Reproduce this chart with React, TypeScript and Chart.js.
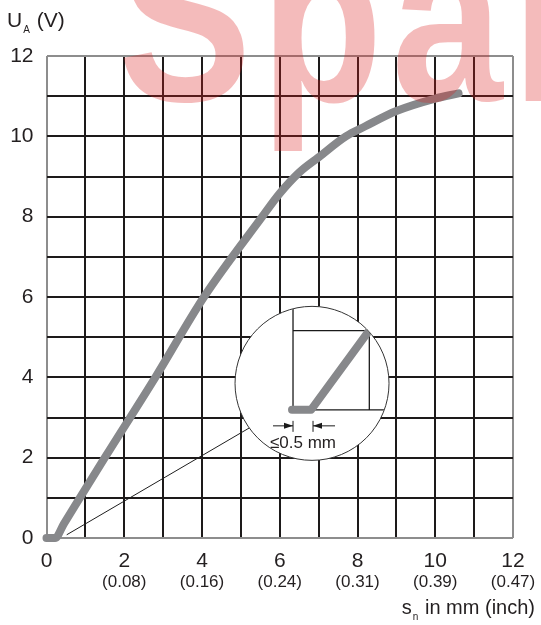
import React, { useEffect, useRef } from 'react';
import { Chart, registerables } from 'chart.js';

Chart.register(...registerables);

// ---- data ----
const distanceMm = [0, 0.22, 0.45, 1.5, 2.8, 4.05, 5.55, 6.0, 6.5, 7.0, 7.7, 8.2, 9.0, 10.0, 10.6];
const outputVoltage = [0, 0, 0.36, 2, 4, 6, 8, 8.58, 9.1, 9.48, 10.0, 10.25, 10.63, 10.94, 11.07];
const xTickValues = [0, 2, 4, 6, 8, 10, 12];
const xInchLabels = ['', '(0.08)', '(0.16)', '(0.24)', '(0.31)', '(0.39)', '(0.47)'];
const yTickValues = [0, 2, 4, 6, 8, 10, 12];
const yTitleParts = ['U', 'A', ' (V)'];
const xTitleParts = ['s', 'n', ' in mm (inch)'];
const insetLabel = '≤0.5 mm';
const watermarkText = 'Spar';

const FONT = '"Liberation Sans", Arial, sans-serif';
const TEXT = '#231f20';
const CURVE = '#87888b';

const textPlugin = {
  id: 'texts',
  afterDatasetsDraw(chart: any) {
    const ctx = chart.ctx;
    const xs = chart.scales.x;
    const ys = chart.scales.y;
    // ---- inset ----
    const cx = xs.getPixelForValue(6.83);
    const cy = ys.getPixelForValue(3.85);
    const r = 77;
    ctx.save();
    ctx.strokeStyle = '#1e1e1e';
    ctx.lineWidth = 1;
    ctx.beginPath();
    ctx.moveTo(xs.getPixelForValue(0.52), ys.getPixelForValue(0.08));
    ctx.lineTo(cx - 60, cy + 43);
    ctx.stroke();
    ctx.beginPath();
    ctx.arc(cx, cy, r, 0, Math.PI * 2);
    ctx.fillStyle = '#ffffff';
    ctx.fill();
    ctx.strokeStyle = '#333333';
    ctx.lineWidth = 1;
    ctx.stroke();
    ctx.save();
    ctx.beginPath();
    ctx.arc(cx, cy, r - 0.5, 0, Math.PI * 2);
    ctx.clip();
    ctx.strokeStyle = '#1a1a1a';
    ctx.lineWidth = 1.3;
    ctx.beginPath();
    ctx.moveTo(cx - 19, cy - r);
    ctx.lineTo(cx - 19, cy + 26.5);
    ctx.moveTo(cx - 19, cy - 52.8);
    ctx.lineTo(cx + 57.3, cy - 52.8);
    ctx.lineTo(cx + 57.3, cy + 26.5);
    ctx.moveTo(cx, cy + 26.5);
    ctx.lineTo(cx + r, cy + 26.5);
    ctx.stroke();
    ctx.strokeStyle = CURVE;
    ctx.lineWidth = 8;
    ctx.lineCap = 'round';
    ctx.lineJoin = 'round';
    ctx.beginPath();
    ctx.moveTo(cx - 20, cy + 26.5);
    ctx.lineTo(cx - 1, cy + 26.5);
    ctx.lineTo(cx + 58, cy - 54);
    ctx.stroke();
    ctx.restore();
    // dimension
    const dy = cy + 42.5;
    ctx.strokeStyle = '#1a1a1a';
    ctx.fillStyle = '#1a1a1a';
    ctx.lineWidth = 1;
    ctx.beginPath();
    ctx.moveTo(cx - 39, dy);
    ctx.lineTo(cx - 19, dy);
    ctx.moveTo(cx + 1, dy);
    ctx.lineTo(cx + 23, dy);
    ctx.moveTo(cx - 19, dy - 5);
    ctx.lineTo(cx - 19, dy + 6);
    ctx.moveTo(cx + 1, dy - 5);
    ctx.lineTo(cx + 1, dy + 6);
    ctx.stroke();
    ctx.beginPath();
    ctx.moveTo(cx - 19, dy);
    ctx.lineTo(cx - 28, dy - 3);
    ctx.lineTo(cx - 28, dy + 3);
    ctx.closePath();
    ctx.fill();
    ctx.beginPath();
    ctx.moveTo(cx + 1, dy);
    ctx.lineTo(cx + 10, dy - 3);
    ctx.lineTo(cx + 10, dy + 3);
    ctx.closePath();
    ctx.fill();
    ctx.fillStyle = TEXT;
    ctx.font = `17px ${FONT}`;
    ctx.textAlign = 'center';
    ctx.textBaseline = 'middle';
    ctx.fillText(insetLabel, cx - 9, cy + 60);
    ctx.restore();
  },
  afterDraw(chart: any) {
    const ctx = chart.ctx;
    const xs = chart.scales.x;
    ctx.save();
    ctx.fillStyle = TEXT;
    // inch labels
    ctx.font = `17px ${FONT}`;
    ctx.textAlign = 'center';
    ctx.textBaseline = 'middle';
    xTickValues.forEach((v, i) => {
      if (xInchLabels[i]) ctx.fillText(xInchLabels[i], xs.getPixelForValue(v), 582);
    });
    // y title
    ctx.textAlign = 'left';
    ctx.textBaseline = 'alphabetic';
    ctx.font = `21px ${FONT}`;
    let x = 7;
    ctx.fillText(yTitleParts[0], x, 27);
    x += ctx.measureText(yTitleParts[0]).width + 1;
    ctx.font = `10px ${FONT}`;
    ctx.fillText(yTitleParts[1], x, 33);
    x += ctx.measureText(yTitleParts[1]).width + 1;
    ctx.font = `21px ${FONT}`;
    ctx.fillText(yTitleParts[2], x, 27);
    // x title (right aligned)
    ctx.font = `20px ${FONT}`;
    const wS = ctx.measureText(xTitleParts[0]).width;
    const wRest = ctx.measureText(xTitleParts[2]).width;
    ctx.font = `10px ${FONT}`;
    const wSub = ctx.measureText(xTitleParts[1]).width;
    let tx = 535 - wRest - wSub - 2 - wS;
    ctx.font = `20px ${FONT}`;
    ctx.fillText(xTitleParts[0], tx, 614);
    tx += wS + 1;
    ctx.font = `10px ${FONT}`;
    ctx.fillText(xTitleParts[1], tx, 620);
    tx += wSub + 1;
    ctx.font = `20px ${FONT}`;
    ctx.fillText(xTitleParts[2], tx, 614);
    ctx.restore();
    // watermark
    ctx.save();
    ctx.translate(0, 101);
    ctx.scale(1, 1.2);
    ctx.font = `bold 200px ${FONT}`;
    (ctx as any).letterSpacing = '9px';
    ctx.textAlign = 'left';
    ctx.textBaseline = 'alphabetic';
    ctx.fillStyle = 'rgba(220, 30, 30, 0.3)';
    ctx.fillText(watermarkText, 118, 0);
    ctx.restore();
  },
};

export default function App() {
  const ref = useRef<HTMLCanvasElement>(null);
  useEffect(() => {
    if (!ref.current) return;
    const gridColor = (c: any) =>
      c.tick && (c.tick.value === 0 || c.tick.value === 12) ? '#8d8d8d' : '#1d1a1a';
    const chart = new Chart(ref.current, {
      type: 'line',
      data: {
        datasets: [
          {
            data: distanceMm.map((d, i) => ({ x: d, y: outputVoltage[i] })),
            borderColor: CURVE,
            borderWidth: 8,
            borderCapStyle: 'round',
            borderJoinStyle: 'round',
            pointRadius: 0,
            cubicInterpolationMode: 'monotone',
            fill: false,
            clip: false,
          } as any,
        ],
      },
      options: {
        animation: false,
        responsive: true,
        maintainAspectRatio: false,
        layout: { padding: { top: 56, right: 28, left: 0, bottom: 0 } },
        plugins: { legend: { display: false }, tooltip: { enabled: false } },
        scales: {
          x: {
            type: 'linear',
            min: 0,
            max: 12,
            afterFit: (s: any) => {
              s.height = 87;
            },
            afterBuildTicks: (s: any) => {
              s.ticks = Array.from({ length: 13 }, (_, i) => ({ value: i }));
            },
            border: { display: false },
            grid: { color: gridColor, lineWidth: 2, drawTicks: false },
            ticks: {
              padding: 11,
              color: TEXT,
              font: { family: FONT, size: 21 },
              maxRotation: 0,
              autoSkip: false,
              callback: (v: any) => (xTickValues.includes(v) ? String(v) : ''),
            },
          },
          y: {
            type: 'linear',
            min: 0,
            max: 12,
            afterFit: (s: any) => {
              s.width = 46.5;
            },
            afterBuildTicks: (s: any) => {
              s.ticks = Array.from({ length: 13 }, (_, i) => ({ value: i }));
            },
            border: { display: false },
            grid: { color: gridColor, lineWidth: 2, drawTicks: false },
            ticks: {
              padding: 13,
              color: TEXT,
              font: { family: FONT, size: 21 },
              autoSkip: false,
              callback: (v: any) => (yTickValues.includes(v) ? String(v) : ''),
            },
          },
        },
      },
      plugins: [textPlugin],
    });
    return () => chart.destroy();
  }, []);
  return (
    <div style={{ position: 'fixed', left: 0, top: 0, width: 541, height: 625 }}>
      <canvas ref={ref} />
    </div>
  );
}
